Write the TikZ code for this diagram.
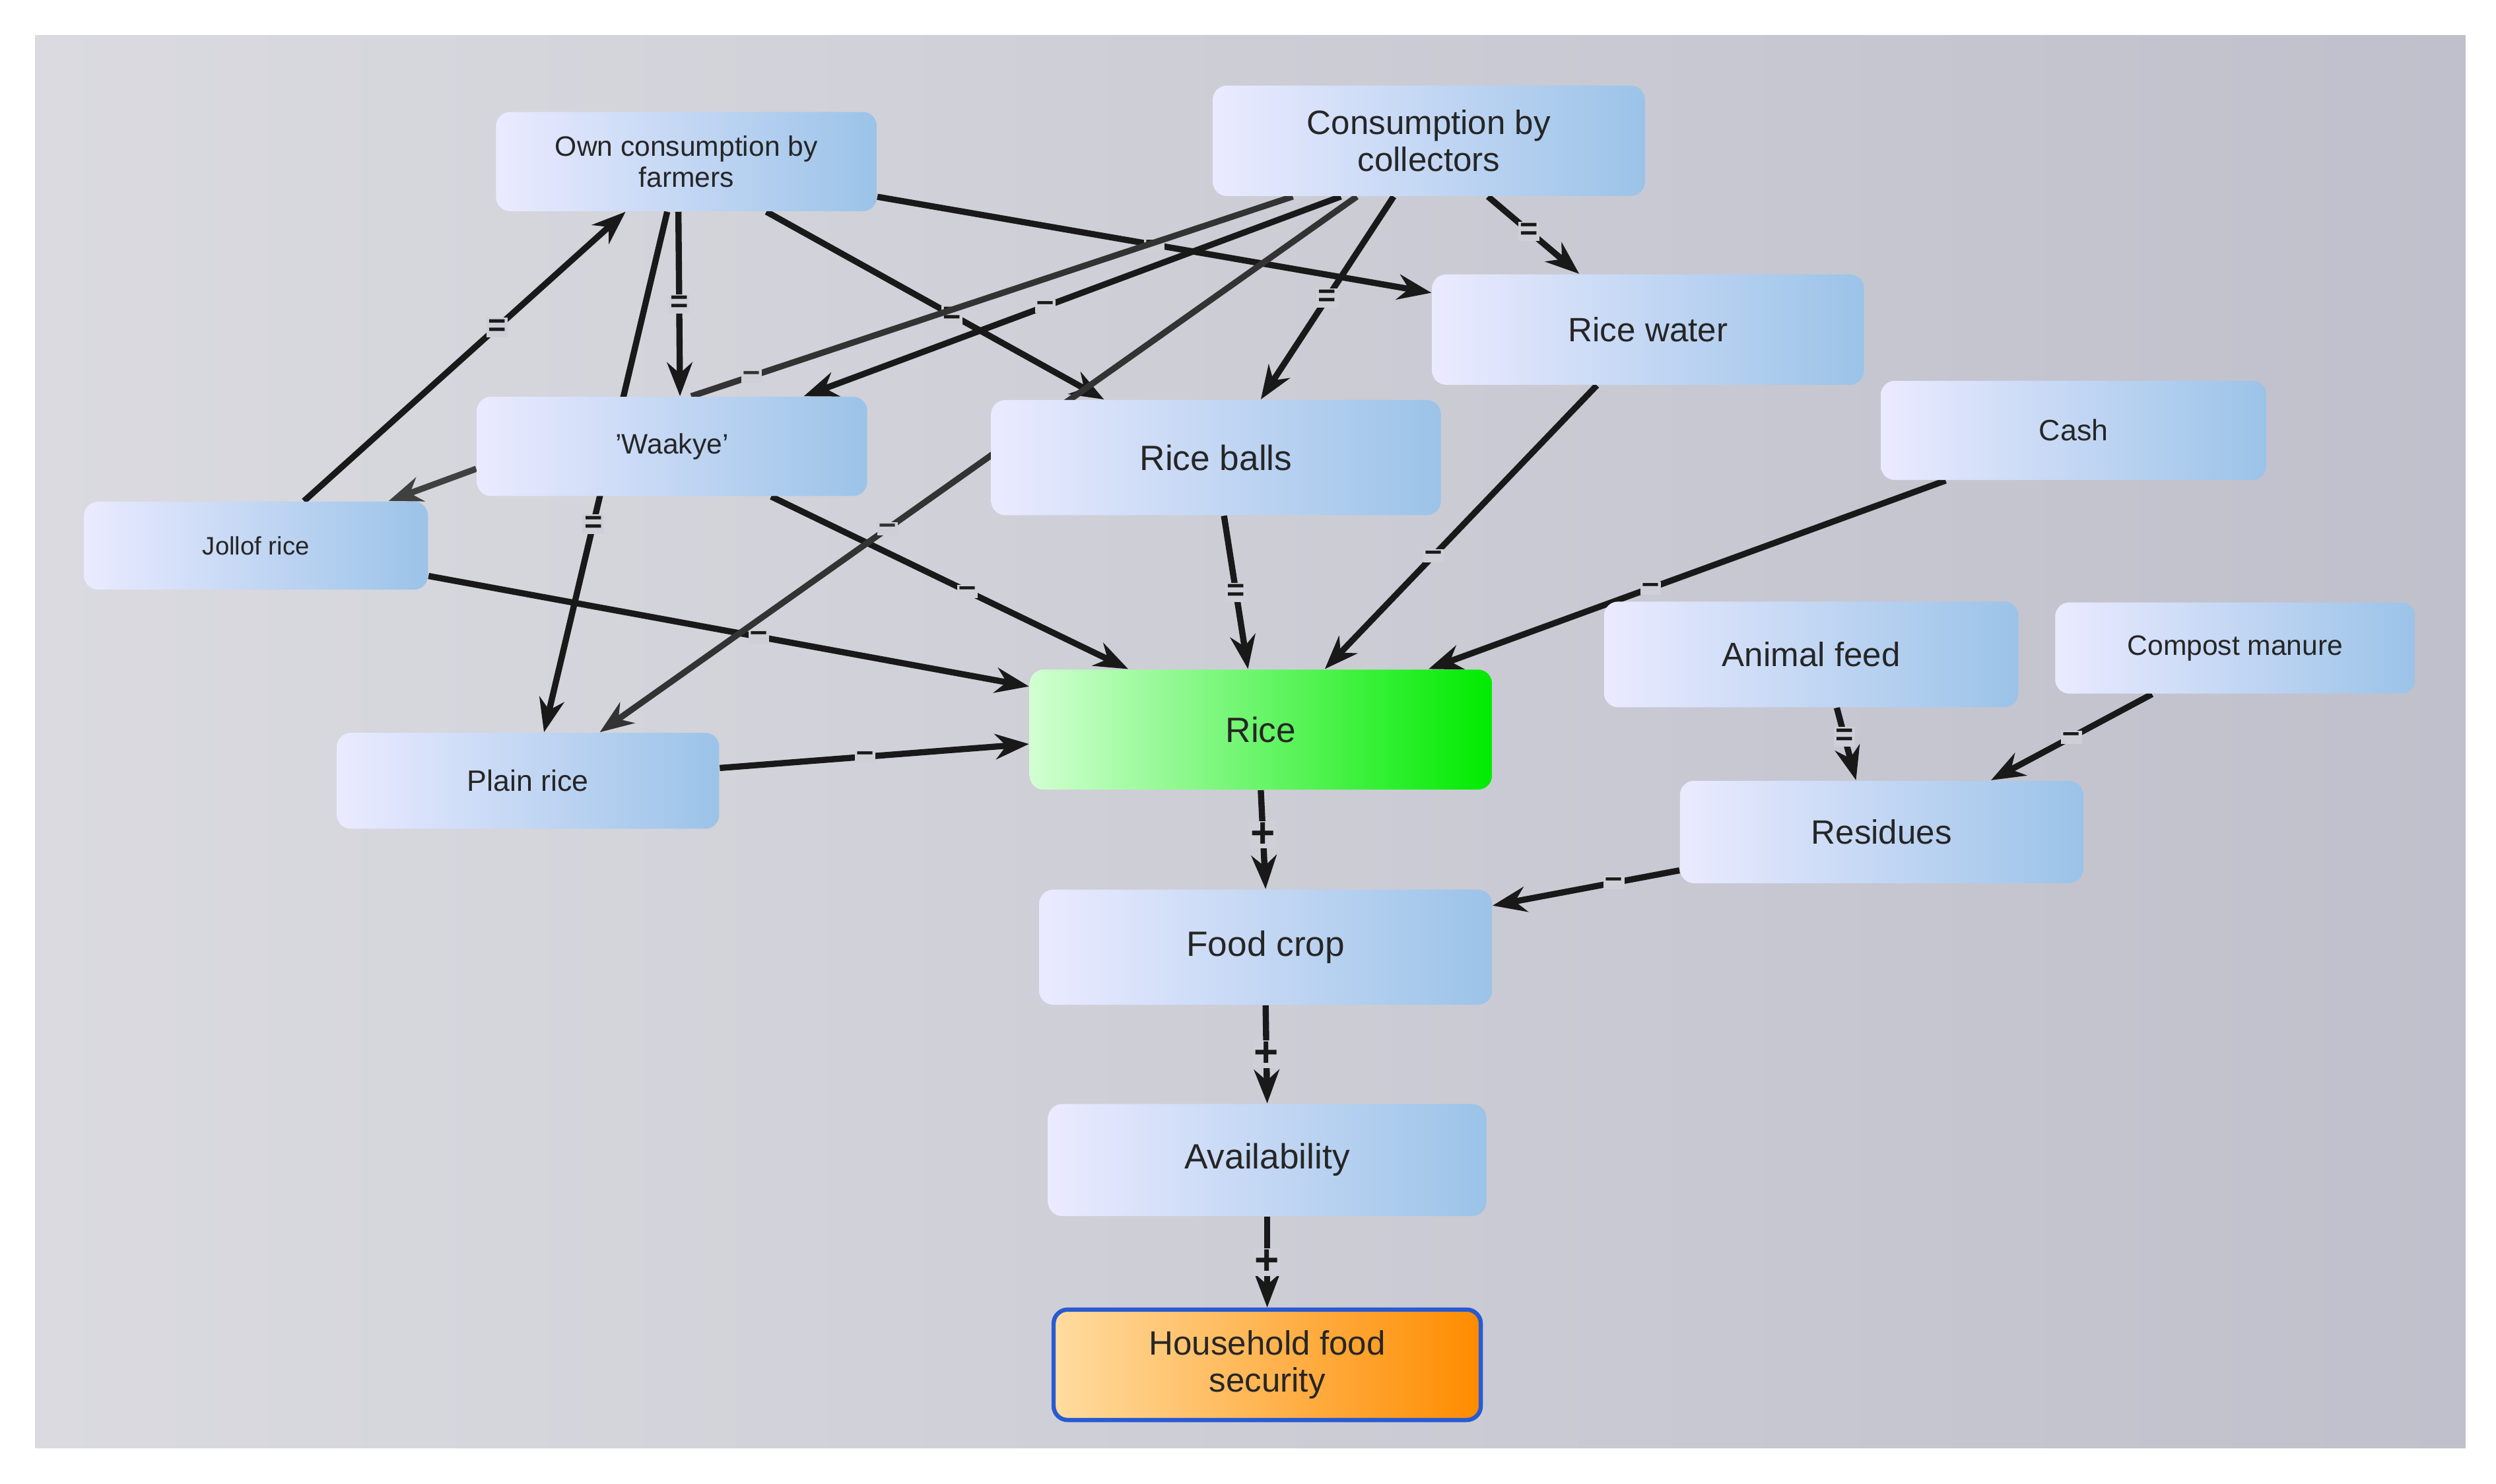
\documentclass[tikz,border=0pt]{standalone}
\usepackage{fontspec}
\setmainfont{Liberation Sans}
\usetikzlibrary{arrows.meta,calc}
\definecolor{bgc}{HTML}{CFCFD7}
\pgfdeclarelayer{back}
\pgfdeclarelayer{edges}
\pgfsetlayers{back,edges,main}
\begin{document}
\begin{tikzpicture}[x=0.02cm,y=-0.02cm,
  box/.style={rounded corners=5pt, shading=axis, left color=blue!8!white, right color={rgb,255:red,155;green,195;blue,232}, shading angle=90, align=center, inner sep=2pt, text=black!85},
  ar/.style={-{Stealth[length=12pt,width=9pt]}, line width=2.2pt, black!90},
  ln/.style={line width=2.2pt, black!80},
  mk/.style={fill=bgc, inner sep=0.6pt, font=\bfseries\fontsize{11}{11}\selectfont},
  pm/.style={fill=bgc, inner sep=0.5pt, font=\bfseries\fontsize{15}{15}\selectfont}]
\useasboundingbox (0,0) rectangle (1560,927.5);
\begin{pgfonlayer}{back}
\fill[white] (0,0) rectangle (1560,927.5);
\shade[left color={rgb,255:red,218;green,218;blue,224}, right color={rgb,255:red,192;green,192;blue,204}] (22,22) rectangle (1541,905);
\end{pgfonlayer}

\node[box, minimum width=238*0.02cm, minimum height=62*0.02cm, font=\fontsize{10}{11}\selectfont] (own) at (429,101) {Own consumption by\\farmers};
\node[box, minimum width=270*0.02cm, minimum height=69*0.02cm, font=\fontsize{12}{13}\selectfont] (col) at (893,88) {Consumption by\\collectors};
\node[box, minimum width=270*0.02cm, minimum height=69*0.02cm, font=\fontsize{12}{13}\selectfont] (rw) at (1030,206) {Rice water};
\node[box, minimum width=244*0.02cm, minimum height=62*0.02cm, font=\fontsize{10}{11}\selectfont] (wa) at (420,279) {'Waakye'};
\node[box, minimum width=281*0.02cm, minimum height=72*0.02cm, font=\fontsize{12.5}{13}\selectfont] (rb) at (760,286) {Rice balls};
\node[box, minimum width=241*0.02cm, minimum height=62*0.02cm, font=\fontsize{10.5}{11}\selectfont] (cash) at (1296,269) {Cash};
\node[box, minimum width=215*0.02cm, minimum height=55*0.02cm, font=\fontsize{9}{10}\selectfont] (jr) at (160,341) {Jollof rice};
\node[box, minimum width=259*0.02cm, minimum height=66*0.02cm, font=\fontsize{12}{13}\selectfont] (af) at (1132,409) {Animal feed};
\node[box, minimum width=225*0.02cm, minimum height=57*0.02cm, font=\fontsize{10}{11}\selectfont] (cm) at (1397,405) {Compost manure};
\node[box, left color={rgb,255:red,210;green,255;blue,210}, right color={rgb,255:red,0;green,235;blue,0}, minimum width=289*0.02cm, minimum height=75*0.02cm, font=\fontsize{12.5}{13}\selectfont] (rice) at (788,456) {Rice};
\node[box, minimum width=239*0.02cm, minimum height=60*0.02cm, font=\fontsize{10.5}{11}\selectfont] (pr) at (330,488) {Plain rice};
\node[box, minimum width=252*0.02cm, minimum height=64*0.02cm, font=\fontsize{12}{13}\selectfont] (res) at (1176,520) {Residues};
\node[box, minimum width=283*0.02cm, minimum height=72*0.02cm, font=\fontsize{12.5}{13}\selectfont] (fc) at (791,592) {Food crop};
\node[box, minimum width=274*0.02cm, minimum height=70*0.02cm, font=\fontsize{12.5}{13}\selectfont] (av) at (792,725) {Availability};
\node[box, draw={rgb,255:red,40;green,90;blue,210}, line width=1.5pt, left color={rgb,255:red,255;green,220;blue,160}, right color={rgb,255:red,255;green,140;blue,0}, minimum width=267*0.02cm, minimum height=69*0.02cm, font=\fontsize{12}{13}\selectfont] (hfs) at (792,853) {Household food\\security};

\begin{pgfonlayer}{edges}
\draw[ar] ($(own.east)+(0,22)$) -- node[mk,pos=0.5]{--} ($(rw.west)+(0,-23)$);
\draw[ar] ($(own.south)+(-5,0)$) -- node[mk,pos=0.5]{=} ($(wa.north)+(5,0)$);
\draw[ar] ($(own.south)+(50,0)$) -- node[mk,pos=0.55]{=} ($(rb.north)+(-70,0)$);
\draw[ar] ($(own.south)+(-12,0)$) -- node[mk,pos=0.6]{=} ($(pr.north)+(10,0)$);
\draw[ar] ($(jr.north)+(30,0)$) -- node[mk,pos=0.6]{=} ($(own.south)+(-38,0)$);
\draw[ar, black!75] ($(wa.west)+(0,14)$) -- ($(jr.north east)+(-25,0)$);
\draw[ar] ($(wa.south)+(62,0)$) -- node[mk,pos=0.55]{--} ($(rice.north west)+(62,0)$);
\draw[ar] ($(jr.east)+(0,19)$) -- node[mk,pos=0.55]{--} ($(rice.west)+(0,-27)$);
\draw[ar] ($(pr.east)+(0,-8)$) -- node[mk,pos=0.47]{--} ($(rice.west)+(0,9)$);
\draw[ln] ($(col.south)+(-85,0)$) -- node[mk,pos=0.9]{--} ($(wa.north)+(12,0)$);
\draw[ar] ($(col.south)+(-55,0)$) -- node[mk,pos=0.55]{--} ($(wa.north east)+(-40,0)$);
\draw[ar, black!80] ($(col.south)+(-45,0)$) -- node[mk,pos=0.62]{--} ($(pr.north east)+(-75,0)$);
\draw[ar] ($(col.south)+(-22,0)$) -- node[mk,pos=0.5]{=} ($(rb.north)+(28,0)$);
\draw[ar] ($(col.south)+(37,0)$) -- node[mk,pos=0.45]{=} ($(rw.north)+(-43,0)$);
\draw[ar] ($(rw.south)+(-32,0)$) -- node[mk,pos=0.6]{--} ($(rice.north)+(40,0)$);
\draw[ar] ($(rb.south)+(5,0)$) -- node[mk,pos=0.5]{=} ($(rice.north)+(-8,0)$);
\draw[ar] ($(cash.south)+(-80,0)$) -- node[mk,pos=0.57]{--} ($(rice.north east)+(-40,0)$);
\draw[ar] ($(af.south)+(16,0)$) -- node[mk,pos=0.4]{=} ($(res.north)+(-16,0)$);
\draw[ar] ($(cm.south)+(-52,0)$) -- node[mk,pos=0.5]{--} ($(res.north east)+(-58,0)$);
\draw[ar] ($(res.west)+(0,24)$) -- node[mk,pos=0.35]{--} ($(fc.east)+(0,-26)$);
\draw[ar] (rice.south) -- node[pm,pos=0.45]{+} (fc.north);
\draw[ar] (fc.south) -- node[pm,pos=0.5]{+} (av.north);
\draw[ar] (av.south) -- node[pm,pos=0.5]{+} (hfs.north);
\end{pgfonlayer}
\end{tikzpicture}
\end{document}
